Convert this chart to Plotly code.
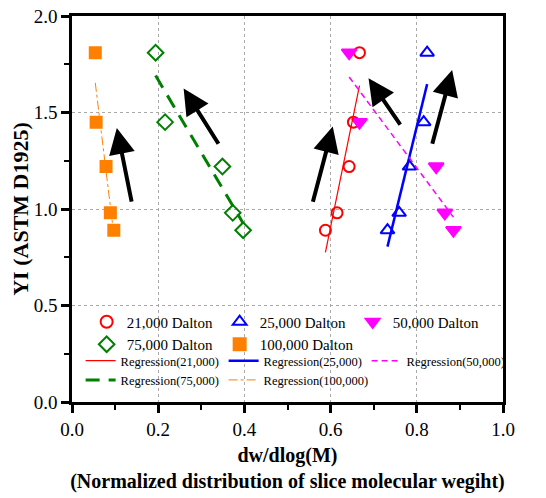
import numpy as np
import plotly.graph_objects as go

# ---- data ----
yi_values = [1.81, 1.45, 1.22, 0.98, 0.89]

x_21k = [0.667, 0.653, 0.643, 0.615, 0.588]
x_25k = [0.824, 0.816, 0.783, 0.759, 0.732]
x_50k = [0.643, 0.667, 0.845, 0.865, 0.885]
x_75k = [0.194, 0.216, 0.349, 0.373, 0.397]
x_100k = [0.054, 0.056, 0.079, 0.089, 0.097]

series_names = ["21,000 Dalton", "25,000 Dalton", "50,000 Dalton", "75,000 Dalton", "100,000 Dalton"]
reg_names = ["Regression(21,000)", "Regression(25,000)", "Regression(50,000)", "Regression(75,000)", "Regression(100,000)"]

# arrows: (tail_x, tail_y, head_x, head_y)
arrow_tail_x = [0.139, 0.342, 0.558, 0.764, 0.835]
arrow_tail_y = [1.03, 1.33, 1.03, 1.43, 1.33]
arrow_head_x = [0.104, 0.259, 0.605, 0.688, 0.882]
arrow_head_y = [1.42, 1.625, 1.427, 1.677, 1.72]

x_ticks = [0.0, 0.2, 0.4, 0.6, 0.8, 1.0]
y_ticks = [0.0, 0.5, 1.0, 1.5, 2.0]

# ---- styles ----
xs = [x_21k, x_25k, x_50k, x_75k, x_100k]
colors = ["#FF0000", "#0000FF", "#FF00FF", "#008000", "#FF8000"]
symbols = ["circle-open", "triangle-up-open", "triangle-down", "diamond-open", "square"]
msizes = [11, 12, 13, 12, 11]
line_widths = [1.2, 2.5, 1.5, 3, 1]
line_dashes = ["solid", "solid", "6px,4px", "14px,9px", "dashdot"]

SERIF = "Liberation Serif, Times New Roman, serif"

fig = go.Figure()

for i in range(5):
    fig.add_trace(go.Scatter(
        x=xs[i], y=yi_values, mode="markers", name=series_names[i],
        marker=dict(symbol=symbols[i], size=msizes[i], color=colors[i],
                    line=dict(width=2, color=colors[i])),
        legend="legend",
    ))

for i in range(5):
    xa = np.array(xs[i])
    ya = np.array(yi_values)
    b, a = np.polyfit(xa, ya, 1)
    xr = np.array([xa.min(), xa.max()])
    yr = a + b * xr
    fig.add_trace(go.Scatter(
        x=xr, y=yr, mode="lines", name=reg_names[i],
        line=dict(color=colors[i], width=line_widths[i], dash=line_dashes[i]),
        legend="legend2",
    ))

for tx, ty, hx, hy in zip(arrow_tail_x, arrow_tail_y, arrow_head_x, arrow_head_y):
    fig.add_annotation(
        x=hx, y=hy, ax=tx, ay=ty, xref="x", yref="y", axref="x", ayref="y",
        text="", showarrow=True, arrowhead=2, arrowsize=1.3, arrowwidth=4,
        arrowcolor="black",
    )

fig.update_layout(
    width=546, height=498,
    margin=dict(l=72, r=43, t=16, b=96, autoexpand=False),
    paper_bgcolor="white", plot_bgcolor="white",
    font=dict(family=SERIF, color="black"),
    legend=dict(
        orientation="h", x=0.034, y=0.25, xanchor="left", yanchor="top",
        entrywidth=88, entrywidthmode="pixels",
        font=dict(size=15, family=SERIF), bgcolor="rgba(0,0,0,0)",
        tracegroupgap=0, itemsizing="constant",
    ),
    legend2=dict(
        orientation="h", x=0.02, y=0.145, xanchor="left", yanchor="top",
        entrywidth=98, entrywidthmode="pixels",
        font=dict(size=12.5, family=SERIF), bgcolor="rgba(0,0,0,0)",
        tracegroupgap=0,
    ),
    showlegend=True,
)

fig.update_xaxes(
    range=[0, 1.0], tickvals=x_ticks, ticktext=[f"{v:.1f}" for v in x_ticks],
    showline=True, linecolor="black", linewidth=2.5, mirror=True,
    ticks="outside", ticklen=8, tickwidth=2.5, tickcolor="black",
    minor=dict(dtick=0.1, ticks="outside", ticklen=5, tickwidth=2, tickcolor="black", showgrid=False),
    showgrid=True, gridcolor="#aaaaaa", gridwidth=1, griddash="dot",
    zeroline=False, tickfont=dict(size=19, family=SERIF), automargin=False,
    ticklabeloverflow="allow",
    title=dict(text="<b>dw/dlog(M)</b><br><b>(Normalized distribution of slice molecular wegiht)</b>",
               font=dict(size=20, family=SERIF), standoff=10),
)
fig.update_yaxes(
    range=[0, 2.0], tickvals=y_ticks, ticktext=[f"{v:.1f}" for v in y_ticks],
    showline=True, linecolor="black", linewidth=2.5, mirror=True,
    ticks="outside", ticklen=8, tickwidth=2.5, tickcolor="black",
    minor=dict(dtick=0.25, ticks="outside", ticklen=5, tickwidth=2, tickcolor="black", showgrid=False),
    showgrid=True, gridcolor="#aaaaaa", gridwidth=1, griddash="dot",
    zeroline=False, tickfont=dict(size=19, family=SERIF), automargin=False,
    ticklabeloverflow="allow",
    title=dict(text="<b>YI (ASTM D1925)</b>", font=dict(size=22, family=SERIF), standoff=0),
)

fig.write_html("out.html", config={"displayModeBar": False},
               post_script="document.body.style.margin='0';")
